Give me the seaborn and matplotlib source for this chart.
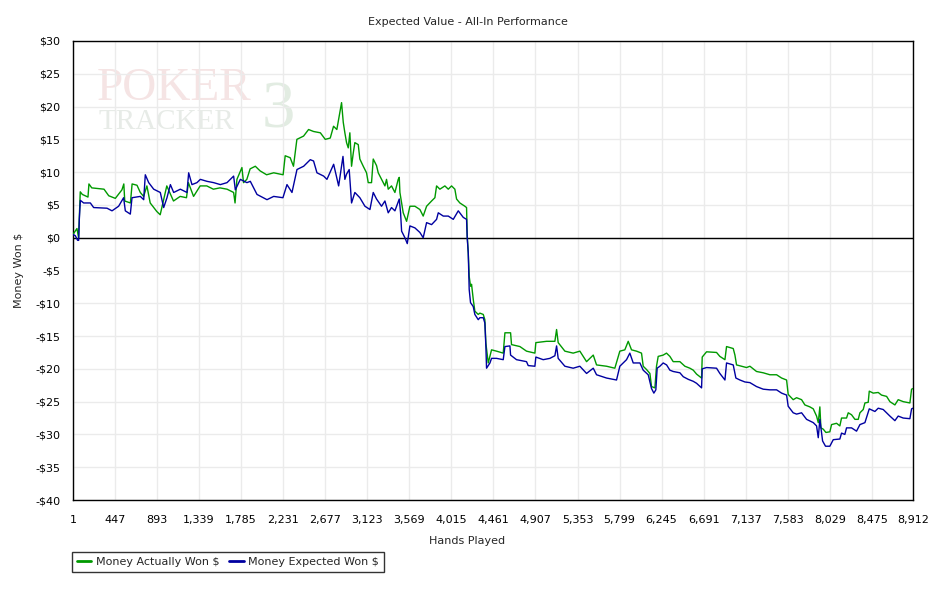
import matplotlib
matplotlib.use("Agg")
import matplotlib.pyplot as plt
import seaborn as sns
import pandas as pd
import numpy as np
from matplotlib.ticker import FuncFormatter
from matplotlib.lines import Line2D

# ---------------- data ----------------
actual_hands = [1, 25, 43, 60, 78, 100, 160, 170, 200, 260, 330, 380, 450, 520, 540, 550, 610, 628, 680, 715,
                750, 785, 820, 890, 926, 996, 1067, 1138, 1205, 1225, 1280, 1350, 1420, 1490, 1560, 1635, 1705,
                1720, 1740, 1793, 1810, 1845, 1880, 1935, 1985, 2055, 2130, 2230, 2252, 2305, 2340, 2376, 2447,
                2500, 2553, 2625, 2677, 2730, 2765, 2800, 2830, 2850, 2868, 2885, 2903, 2921, 2938, 2956, 2974,
                2991, 3027, 3044, 3080, 3115, 3133, 3168, 3186, 3221, 3239, 3274, 3310, 3327, 3345, 3380, 3416,
                3451, 3462, 3469, 3504, 3540, 3575, 3628, 3681, 3716, 3752, 3805, 3840, 3858, 3893, 3946, 3982,
                4017, 4052, 4070, 4105, 4158, 4176, 4183, 4194, 4204, 4218, 4229, 4247, 4264, 4300, 4317, 4353,
                4370, 4381, 4406, 4441, 4494, 4565, 4583, 4643, 4653, 4742, 4812, 4901, 4911, 5025, 5113, 5131,
                5148, 5219, 5307, 5378, 5449, 5520, 5555, 5661, 5749, 5802, 5855, 5891, 5926, 5979, 6032, 6050,
                6085, 6121, 6138, 6174, 6191, 6209, 6262, 6297, 6333, 6368, 6439, 6492, 6545, 6581, 6616, 6669,
                6676, 6722, 6828, 6863, 6917, 6934, 7005, 7023, 7040, 7093, 7146, 7182, 7252, 7323, 7394, 7465,
                7518, 7571, 7588, 7641, 7677, 7730, 7765, 7818, 7854, 7889, 7907, 7924, 7935, 7960, 7988, 8030,
                8048, 8101, 8136, 8154, 8207, 8225, 8260, 8296, 8331, 8349, 8384, 8402, 8437, 8448, 8490, 8543,
                8578, 8632, 8667, 8720, 8755, 8808, 8879, 8897, 8912]
actual_won = [0.5, 1.0, 1.4, 0.0, 7.0, 6.6, 6.2, 8.2, 7.6, 7.5, 7.4, 6.4, 6.0, 7.3, 8.2, 5.6, 5.3, 8.2, 8.0, 6.9,
              6.3, 7.9, 5.3, 4.0, 3.5, 7.9, 5.6, 6.3, 6.1, 8.4, 6.3, 7.9, 7.9, 7.4, 7.6, 7.4, 6.9,
              5.3, 8.9, 10.7, 8.4, 8.9, 10.5, 10.9, 10.2, 9.6, 9.9, 9.6, 12.5, 12.2, 10.9, 15.0, 15.5,
              16.5, 16.2, 16.0, 15.0, 15.2, 17.0, 16.5, 19.0, 20.6, 17.6, 16.0, 14.5, 13.7, 16.0, 10.9, 12.9,
              14.5, 14.2, 12.0, 10.9, 9.9, 8.4, 8.4, 12.0, 11.0, 9.9, 8.9, 7.9, 8.9, 7.4, 7.9, 6.9,
              8.9, 9.2, 6.9, 3.8, 2.5, 4.8, 4.8, 4.3, 3.3, 4.8, 5.6, 6.1, 7.9, 7.4, 7.9, 7.4,
              7.9, 7.4, 5.9, 5.3, 4.8, 4.6, 0.3, -2.3, -5.9, -7.4, -7.1, -9.4, -11.2, -11.7, -11.5, -11.7,
              -12.5, -16.1, -19.1, -17.1, -17.3, -17.6, -14.5, -14.5, -16.3, -16.6, -17.3, -17.6, -16.0, -15.8, -15.8, -14.0,
              -16.0, -17.3, -17.6, -17.3, -18.9, -17.9, -19.4, -19.6, -19.9, -17.3, -17.1, -15.8, -17.1, -17.3, -17.6, -19.6,
              -20.1, -20.7, -22.7, -22.9, -19.6, -18.1, -17.9, -17.6, -18.1, -18.9, -18.9, -19.6, -19.9, -20.2, -20.8, -21.4,
              -18.2, -17.4, -17.5, -18.1, -18.6, -16.6, -16.9, -17.9, -19.4, -19.6, -19.8, -19.6, -20.4, -20.6, -20.9, -20.9,
              -21.4, -21.7, -23.9, -24.7, -24.4, -24.7, -25.5, -25.8, -26.1, -27.2, -28.2, -25.8, -29.0, -29.2, -29.7, -29.6,
              -28.5, -28.3, -28.7, -27.5, -27.5, -26.7, -27.0, -27.7, -27.7, -26.7, -26.2, -25.2, -25.1, -23.4, -23.7, -23.6,
              -24.0, -24.2, -25.0, -25.5, -24.7, -25.0, -25.2, -23.1, -23.0]

expected_hands = [1, 26, 50, 61, 68, 79, 114, 185, 220, 362, 415, 485, 538, 556, 609, 627, 715, 751, 768, 804,
                  857, 927, 963, 998, 1034, 1069, 1140, 1210, 1228, 1263, 1316, 1352, 1422, 1493, 1564, 1635, 1705,
                  1723, 1776, 1846, 1882, 1953, 2059, 2130, 2228, 2271, 2324, 2377, 2448, 2518, 2553, 2589, 2660,
                  2695, 2766, 2819, 2865, 2885, 2903, 2931, 2956, 2991, 3044, 3098, 3151, 3186, 3221, 3274, 3310,
                  3345, 3380, 3416, 3462, 3476, 3487, 3522, 3547, 3575, 3628, 3681, 3716, 3752, 3805, 3858, 3876,
                  3929, 3982, 4035, 4088, 4141, 4176, 4183, 4194, 4204, 4218, 4247, 4264, 4300, 4317, 4353, 4370,
                  4381, 4388, 4424, 4441, 4494, 4565, 4583, 4636, 4643, 4706, 4812, 4830, 4901, 4911, 4989, 5060,
                  5113, 5131, 5148, 5219, 5307, 5378, 5449, 5520, 5555, 5661, 5767, 5802, 5873, 5908, 5944, 6015,
                  6050, 6103, 6138, 6163, 6184, 6198, 6227, 6262, 6298, 6333, 6368, 6439, 6475, 6528, 6581, 6616,
                  6669, 6676, 6722, 6828, 6863, 6917, 6934, 7005, 7033, 7076, 7129, 7182, 7252, 7323, 7394, 7465,
                  7518, 7571, 7588, 7641, 7677, 7730, 7783, 7854, 7889, 7907, 7924, 7953, 7984, 8030, 8066, 8136,
                  8154, 8189, 8207, 8260, 8313, 8349, 8402, 8448, 8508, 8543, 8596, 8667, 8720, 8755, 8808, 8879,
                  8897, 8912]
expected_won = [0.5, 0.3, -0.4, -0.4, 2.8, 5.7, 5.3, 5.3, 4.6, 4.5, 4.1, 4.8, 6.1, 4.1, 3.6, 6.1, 6.3, 5.8, 9.6, 8.4,
                7.4, 6.9, 4.6, 6.1, 8.1, 6.9, 7.4, 6.9, 9.9, 8.1, 8.4, 8.9, 8.6, 8.4, 8.1, 8.4, 9.4,
                7.3, 8.9, 8.4, 8.6, 6.6, 5.8, 6.3, 6.1, 8.1, 6.9, 10.4, 10.9, 11.9, 11.7, 9.9, 9.4,
                8.9, 11.2, 7.9, 12.4, 8.9, 9.7, 10.4, 5.3, 6.9, 6.1, 4.8, 4.3, 6.9, 5.9, 4.8, 5.6,
                3.8, 4.6, 4.1, 5.9, 3.8, 1.0, 0.0, -0.9, 1.8, 1.5, 0.8, 0.0, 2.3, 2.0, 2.8, 3.8,
                3.3, 3.3, 2.8, 4.1, 3.1, 2.8, 0.0, -2.3, -7.9, -9.9, -10.5, -11.7, -12.5, -12.2, -12.2, -13.0,
                -16.6, -19.9, -19.1, -18.4, -18.4, -18.6, -16.6, -16.5, -17.9, -18.6, -18.9, -19.5, -19.6, -18.2, -18.6, -18.4,
                -18.0, -16.5, -18.4, -19.6, -19.9, -19.6, -20.7, -19.9, -20.9, -21.4, -21.7, -19.6, -18.6, -17.6, -19.1, -19.1,
                -20.2, -20.9, -23.0, -23.7, -23.2, -19.9, -19.6, -19.1, -19.4, -20.2, -20.4, -20.6, -21.2, -21.6, -21.9, -22.2,
                -22.9, -20.0, -19.8, -19.9, -20.7, -21.7, -19.1, -19.4, -21.4, -21.7, -22.0, -22.1, -22.7, -23.1, -23.2, -23.2,
                -23.7, -24.0, -25.7, -26.7, -26.9, -26.7, -27.7, -28.2, -28.7, -30.5, -27.7, -31.0, -31.8, -31.8, -30.8, -30.7,
                -29.8, -30.0, -29.0, -29.0, -29.5, -28.5, -28.2, -26.1, -26.5, -26.0, -26.2, -27.2, -27.9, -27.2, -27.5, -27.6,
                -26.1, -26.0]

series_names = ["Money Actually Won $", "Money Expected Won $"]
series_colors = ["#009900", "#0000a0"]
x_ticks = [1, 447, 893, 1339, 1785, 2231, 2677, 3123, 3569, 4015, 4461, 4907, 5353, 5799,
           6245, 6691, 7137, 7583, 8029, 8475, 8912]
y_ticks = [30, 25, 20, 15, 10, 5, 0, -5, -10, -15, -20, -25, -30, -35, -40]

df = pd.concat([
    pd.DataFrame({"Hands": actual_hands, "Won": actual_won, "Series": series_names[0]}),
    pd.DataFrame({"Hands": expected_hands, "Won": expected_won, "Series": series_names[1]}),
], ignore_index=True)

# ---------------- plot ----------------
sns.set_style("white")
plt.rcParams["font.family"] = ["DejaVu Sans"]

fig = plt.figure(figsize=(9.37, 5.95), dpi=100)
ax = fig.add_axes([73 / 937, 1 - 500 / 595, (913 - 73) / 937, (500 - 41) / 595])

# faint watermark
ax.text(97 / 937, 1 - 100 / 595, "POKER", transform=fig.transFigure, fontsize=34,
        family="Liberation Serif", color="#f5e4e4", zorder=0)
ax.text(99 / 937, 1 - 129 / 595, "TRACKER", transform=fig.transFigure, fontsize=21,
        family="Liberation Serif", color="#e7ebe7", zorder=0)
ax.text(262 / 937, 1 - 128 / 595, "3", transform=fig.transFigure, fontsize=48,
        family="Liberation Serif", color="#e2ece2", zorder=0)

sns.lineplot(data=df, x="Hands", y="Won", hue="Series", palette=dict(zip(series_names, series_colors)),
             linewidth=1.0, estimator=None, sort=False, ax=ax, legend=False, zorder=3)

ax.axhline(0, color="black", linewidth=1.0, zorder=2)

ax.set_xlim(1, 8912)
ax.set_ylim(-40, 30)
ax.set_xticks(x_ticks)
ax.set_yticks(y_ticks)
ax.xaxis.set_major_formatter(FuncFormatter(lambda v, p: f"{int(round(v)):,}"))
ax.yaxis.set_major_formatter(FuncFormatter(
    lambda v, p: ("-$" if v < 0 else "$") + f"{abs(int(round(v)))}"))
ax.grid(True, color="#ebebeb", linewidth=1.0, zorder=1)
ax.set_axisbelow(True)
for s in ax.spines.values():
    s.set_color("black")
    s.set_linewidth(1.0)
ax.tick_params(axis="both", which="major", direction="out", length=5, width=1, color="black",
               labelsize=8, labelcolor="black", pad=4)
ax.tick_params(axis="x", pad=6)
ax.set_xlabel("")
ax.set_ylabel("Money Won $", fontsize=8, labelpad=8)

fig.text(468 / 937, 1 - 22 / 595, "Expected Value - All-In Performance", ha="center", va="center",
         fontsize=8)
fig.text(467 / 937, 1 - 541 / 595, "Hands Played", ha="center", va="center", fontsize=8)

handles = [Line2D([], [], color=c, linewidth=2) for c in series_colors]
leg = fig.legend(handles, series_names, loc="upper left", bbox_to_anchor=(72 / 937, 1 - 552 / 595),
                 ncol=2, fontsize=8, frameon=True, fancybox=False, edgecolor="black",
                 handlelength=1.3, handletextpad=0.4, columnspacing=0.9, borderpad=0.45,
                 borderaxespad=0)
leg.get_frame().set_linewidth(1.0)

fig.savefig("out.png", dpi=100)
